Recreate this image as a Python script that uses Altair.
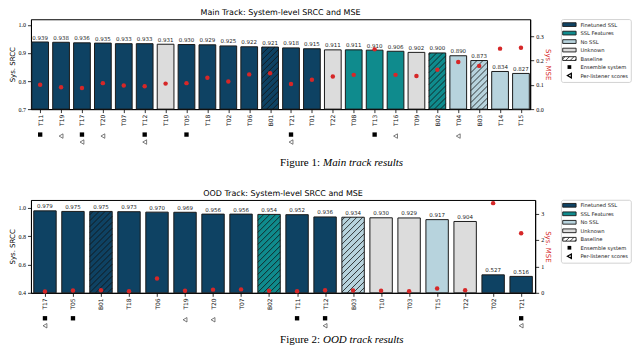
import json
import math
import altair as alt
import pandas as pd

# ---------------- data ----------------
CATS = ["Finetuned SSL", "SSL Features", "No SSL", "Unknown"]
CAT_COLORS = ["#0e4263", "#0f8b8d", "#b7d3dd", "#dcdcdc"]
TYPE_NAMES = {"F": "Finetuned SSL", "S": "SSL Features", "N": "No SSL", "U": "Unknown"}
RED = "#d62728"

main_systems = ["T11", "T19", "T17", "T20", "T07", "T12", "T10", "T05", "T18", "T02", "T06", "B01",
                "T21", "T01", "T22", "T08", "T13", "T16", "T09", "B02", "T04", "B03", "T14", "T15"]
main_srcc = [0.939, 0.938, 0.936, 0.935, 0.933, 0.933, 0.931, 0.930, 0.929, 0.925, 0.922, 0.921,
             0.918, 0.915, 0.911, 0.911, 0.910, 0.906, 0.902, 0.900, 0.890, 0.873, 0.834, 0.827]
main_mse = [0.100, 0.090, 0.087, 0.107, 0.097, 0.094, 0.105, 0.107, 0.129, 0.114, 0.143, 0.148,
            0.103, 0.121, 0.134, 0.141, 0.246, 0.141, 0.136, 0.162, 0.194, 0.178, 0.249, 0.253]
main_type = ["F", "F", "F", "F", "F", "F", "U", "F", "F", "F", "F", "F",
             "F", "F", "U", "S", "S", "S", "U", "S", "N", "N", "N", "N"]
main_ensemble = [1, 0, 1, 0, 0, 1, 0, 1, 0, 0, 0, 0, 1, 0, 0, 0, 1, 0, 0, 0, 0, 0, 0, 0]
main_perlistener = [0, 1, 1, 1, 0, 1, 0, 0, 0, 0, 0, 0, 1, 0, 0, 0, 0, 1, 0, 0, 1, 0, 0, 0]

ood_systems = ["T17", "T05", "B01", "T18", "T06", "T19", "T20", "T07", "B02", "T11", "T12", "B03",
               "T10", "T03", "T15", "T22", "T02", "T21"]
ood_srcc = [0.979, 0.975, 0.975, 0.973, 0.970, 0.969, 0.956, 0.956, 0.954, 0.952, 0.936, 0.934,
            0.930, 0.929, 0.917, 0.904, 0.527, 0.516]
ood_mse = [0.05, 0.09, 0.10, 0.06, 0.54, 0.08, 0.12, 0.13, 0.08, 0.06, 0.10, 0.09,
           0.08, 0.06, 0.16, 0.10, 3.39, 2.25]
ood_type = ["F", "F", "F", "F", "F", "F", "F", "F", "S", "F", "F", "N",
            "U", "U", "N", "U", "F", "F"]
ood_ensemble = [1, 1, 0, 0, 0, 0, 0, 0, 0, 1, 1, 0, 0, 0, 0, 0, 0, 1]
ood_perlistener = [1, 0, 0, 0, 0, 1, 1, 0, 0, 0, 1, 0, 0, 0, 0, 0, 0, 1]

legend_labels = ["Finetuned SSL", "SSL Features", "No SSL", "Unknown", "Baseline",
                 "Ensemble system", "Per-listener scores"]

titles = ["Main Track: System-level SRCC and MSE", "OOD Track: System-level SRCC and MSE"]
captions = [("Figure 1:", "Main track results"), ("Figure 2:", "OOD track results")]

# ---------------- layout / style ----------------
BAR_HALF = 0.4
HATCH_SPACING = 6.0
SANS = "DejaVu Sans"
SERIF = "Liberation Serif"
LEG_W, LEG_H = 70, 63
LEG_DOM = [-0.63, 6.78]
SWATCH = dict(zip(legend_labels[:5], CAT_COLORS + ["white"]))
SQ_OFF, TRI_OFF, TRI_ONLY_OFF = 25.5, 33, 27


def hatch(rects, sx, sy, spacing):
    """'/' hatch segments clipped to rectangles (data coords); sx, sy = px per unit (upward)."""
    out = []
    for x0, x1, y0, y1 in rects:
        X0, X1 = sorted((x0 * sx, x1 * sx))
        Y0, Y1 = sorted((y0 * sy, y1 * sy))
        k0 = math.ceil((X0 - Y1) / spacing)
        k1 = math.floor((X1 - Y0) / spacing)
        for k in range(k0, k1 + 1):
            c = k * spacing
            xa = max(X0, Y0 + c)
            xb = min(X1, Y1 + c)
            if xb - xa < 0.6:
                continue
            out.append({"hx0": xa / sx, "hx1": xb / sx,
                        "hy0": (xa - c) / sy, "hy1": (xb - c) / sy})
    return out


def track(title, systems, srcc, mse, types, ens, pl, W, H, xdom, ydom, yvals,
          mdom, mvals, mfmt):
    n = len(systems)
    df = pd.DataFrame({"idx": list(range(n)), "system": systems, "srcc": srcc,
                       "mse": mse, "cat": [TYPE_NAMES[t] for t in types],
                       "ens": ens, "pl": pl})
    sx = W / (xdom[1] - xdom[0])
    sy = H / (ydom[1] - ydom[0])
    rects = [(i - BAR_HALF, i + BAR_HALF, ydom[0], v)
             for i, (s, v) in enumerate(zip(systems, srcc)) if s.startswith("B")]
    hdf = pd.DataFrame(hatch(rects, sx, sy, HATCH_SPACING))

    xs = alt.Scale(domain=xdom, nice=False, zero=False)
    ys = alt.Scale(domain=ydom, nice=False, zero=False)
    ms = alt.Scale(domain=mdom, nice=False, zero=False)

    xaxis = alt.Axis(values=list(range(n)),
                     labelExpr=json.dumps(systems) + "[datum.value]",
                     labelAngle=-90, labelFont=SANS, labelFontSize=6, labelColor="#111",
                     tickSize=3.5, tickColor="black", tickWidth=0.8, labelPadding=1.5,
                     domainColor="black", domainWidth=1, grid=False, labelOverlap=False,
                     labelFlush=False, title=None)
    yaxis = alt.Axis(values=yvals, format=".1f", title="Sys. SRCC", titleFont=SANS,
                     titleFontSize=7, titleFontWeight="normal", titleColor="black",
                     titlePadding=2, labelFont=SERIF, labelFontSize=6, labelColor="black",
                     labelPadding=2, tickSize=3.5, tickColor="black", tickWidth=0.8,
                     domainColor="black", domainWidth=1, grid=False)
    maxis = alt.Axis(orient="right", values=mvals, format=mfmt, title="Sys. MSE",
                     titleFont=SANS, titleFontSize=7, titleFontWeight="normal",
                     titleColor=RED, titlePadding=1, labelFont=SERIF, labelFontSize=6,
                     labelColor="black", labelPadding=2, tickSize=3.5, tickColor="black",
                     tickWidth=0.8, domainColor="black", domainWidth=1, grid=False)

    base = alt.Chart(df)
    bars = base.transform_calculate(
        x0=f"datum.idx - {BAR_HALF}", x1=f"datum.idx + {BAR_HALF}", base=f"{ydom[0]}"
    ).mark_rect(stroke="#1a1a1a", strokeWidth=1).encode(
        x=alt.X("x0:Q", scale=xs, axis=xaxis, title=None),
        x2="x1:Q",
        y=alt.Y("srcc:Q", scale=ys, axis=yaxis, title="Sys. SRCC"),
        y2="base:Q",
        fill=alt.Fill("cat:N", scale=alt.Scale(domain=CATS, range=CAT_COLORS), legend=None),
    )
    hatch_layer = alt.Chart(hdf).mark_rule(color="#111", strokeWidth=0.8).encode(
        x=alt.X("hx0:Q", scale=xs, axis=xaxis, title=None),
        x2="hx1:Q",
        y=alt.Y("hy0:Q", scale=ys, axis=yaxis, title="Sys. SRCC"),
        y2="hy1:Q",
    )
    text = base.mark_text(baseline="bottom", dy=-1.5, font=SANS, fontSize=5.5,
                          color="#222").encode(
        x=alt.X("idx:Q", scale=xs, axis=xaxis, title=None),
        y=alt.Y("srcc:Q", scale=ys, axis=yaxis, title="Sys. SRCC"),
        text=alt.Text("srcc:Q", format=".3f"),
    )
    points = base.mark_circle(size=20, color=RED, opacity=1).encode(
        x=alt.X("idx:Q", scale=xs, axis=xaxis, title=None),
        y=alt.Y("mse:Q", scale=ms, axis=maxis, title="Sys. MSE"),
    )
    # flag markers under the tick labels (pixel offsets below the plot area)
    squares = base.transform_filter("datum.ens == 1").transform_calculate(
        my=f"{H} + {SQ_OFF}"
    ).mark_point(shape="square", filled=True, color="black", size=19, opacity=1).encode(
        x=alt.X("idx:Q", scale=xs, axis=xaxis, title=None),
        y=alt.Y("my:Q", scale=None, axis=None),
    )
    tris = base.transform_filter("datum.pl == 1").transform_calculate(
        my=f"datum.ens == 1 ? {H} + {TRI_OFF} : {H} + {TRI_ONLY_OFF}"
    ).mark_point(shape="triangle-left", filled=False, color="#444", strokeWidth=0.7,
                 size=20, opacity=1).encode(
        x=alt.X("idx:Q", scale=xs, axis=xaxis, title=None),
        y=alt.Y("my:Q", scale=None, axis=None),
    )
    return alt.layer(alt.layer(bars, hatch_layer, text), points, squares, tris).resolve_scale(
        y="independent"
    ).properties(
        width=W, height=H,
        title=alt.TitleParams(title, font=SANS, fontSize=8, fontWeight="normal",
                              color="black", anchor="middle", frame="group", offset=2),
    )


def legend_chart(title_pad=None):
    n = len(legend_labels)
    ldf = pd.DataFrame({"i": list(range(n)), "label": legend_labels})
    lx = alt.Scale(domain=[0, LEG_W], nice=False, zero=False)
    ly = alt.Scale(domain=LEG_DOM, reverse=True, nice=False, zero=False)
    sy = -LEG_H / (LEG_DOM[1] - LEG_DOM[0])
    hdf = pd.DataFrame(hatch([(1.6, 15, 4 - 0.22, 4 + 0.22)], 1.0, sy, 4.5))
    base = alt.Chart(ldf)
    sw = base.transform_filter("datum.i < 5").transform_calculate(
        x0="1.6", x1="15", y0="datum.i - 0.22", y1="datum.i + 0.22",
        sw=json.dumps(SWATCH) + "[datum.label]",
    ).mark_rect(stroke="#1a1a1a", strokeWidth=0.9).encode(
        x=alt.X("x0:Q", scale=lx, axis=None), x2="x1:Q",
        y=alt.Y("y0:Q", scale=ly, axis=None), y2="y1:Q",
        fill=alt.Fill("sw:N", scale=None),
    )
    hl = alt.Chart(hdf).mark_rule(color="#111", strokeWidth=0.8).encode(
        x=alt.X("hx0:Q", scale=lx, axis=None), x2="hx1:Q",
        y=alt.Y("hy0:Q", scale=ly, axis=None), y2="hy1:Q",
    )
    sq = base.transform_filter("datum.i == 5").transform_calculate(xm="8.3").mark_point(
        shape="square", filled=True, color="black", size=14, opacity=1
    ).encode(x=alt.X("xm:Q", scale=lx, axis=None), y=alt.Y("i:Q", scale=ly, axis=None))
    tri = base.transform_filter("datum.i == 6").transform_calculate(xm="8.3").mark_point(
        shape="triangle-left", filled=False, color="black", strokeWidth=1.3, size=20, opacity=1
    ).encode(x=alt.X("xm:Q", scale=lx, axis=None), y=alt.Y("i:Q", scale=ly, axis=None))
    txt = base.transform_calculate(xt="19.3").mark_text(
        align="left", baseline="middle", font=SANS, fontSize=5.2, color="#222"
    ).encode(x=alt.X("xt:Q", scale=lx, axis=None), y=alt.Y("i:Q", scale=ly, axis=None),
             text="label:N")
    props = dict(width=LEG_W, height=LEG_H,
                 view=alt.ViewBackground(stroke="#c8c8c8", strokeWidth=0.8, cornerRadius=2,
                                         fill="white"))
    if title_pad is not None:
        props["title"] = alt.TitleParams("\u00a0", fontSize=title_pad[0], offset=title_pad[1])
    return alt.layer(sw, hl, sq, tri, txt).properties(**props)


CAP_W = 600
CAP_SPLIT = 291


def caption_chart(prefix, italic, H, y):
    cdf = pd.DataFrame({"a": [prefix], "b": [italic]})
    c = alt.Chart(cdf)
    t1 = c.mark_text(align="right", baseline="middle", font=SERIF, fontSize=11,
                     color="black").encode(text="a:N", x=alt.value(CAP_SPLIT - 1.5),
                                           y=alt.value(y))
    t2 = c.mark_text(align="left", baseline="middle", font=SERIF, fontSize=11,
                     fontStyle="italic", color="black").encode(
        text="b:N", x=alt.value(CAP_SPLIT + 1.5), y=alt.value(y))
    return alt.layer(t1, t2).properties(
        width=CAP_W, height=H, view=alt.ViewBackground(stroke="transparent"))


main = track(titles[0], main_systems, main_srcc, main_mse, main_type, main_ensemble,
             main_perlistener, 500, 90, [-0.44, 23.44], [0.7, 1.02], [0.7, 0.8, 0.9, 1.0],
             [0, 0.37], [0.0, 0.1, 0.2, 0.3], ".1f")
ood = track(titles[1], ood_systems, ood_srcc, ood_mse, ood_type, ood_ensemble,
            ood_perlistener, 505, 93, [-0.5, 17.5], [0.4, 1.056], [0.4, 0.6, 0.8, 1.0],
            [0, 3.51], [0, 1, 2, 3], "d")

row1 = alt.hconcat(main, legend_chart(), spacing=8)
row2 = alt.hconcat(ood, legend_chart((5, 2)), spacing=8)

chart = alt.vconcat(
    row1,
    caption_chart(*captions[0], H=40, y=14.5),
    row2,
    caption_chart(*captions[1], H=15, y=8.5),
    spacing=0,
).properties(padding=0, background="white").configure_view(stroke="black", strokeWidth=1)

chart.save("out.html", embed_options={"renderer": "svg", "actions": False})
